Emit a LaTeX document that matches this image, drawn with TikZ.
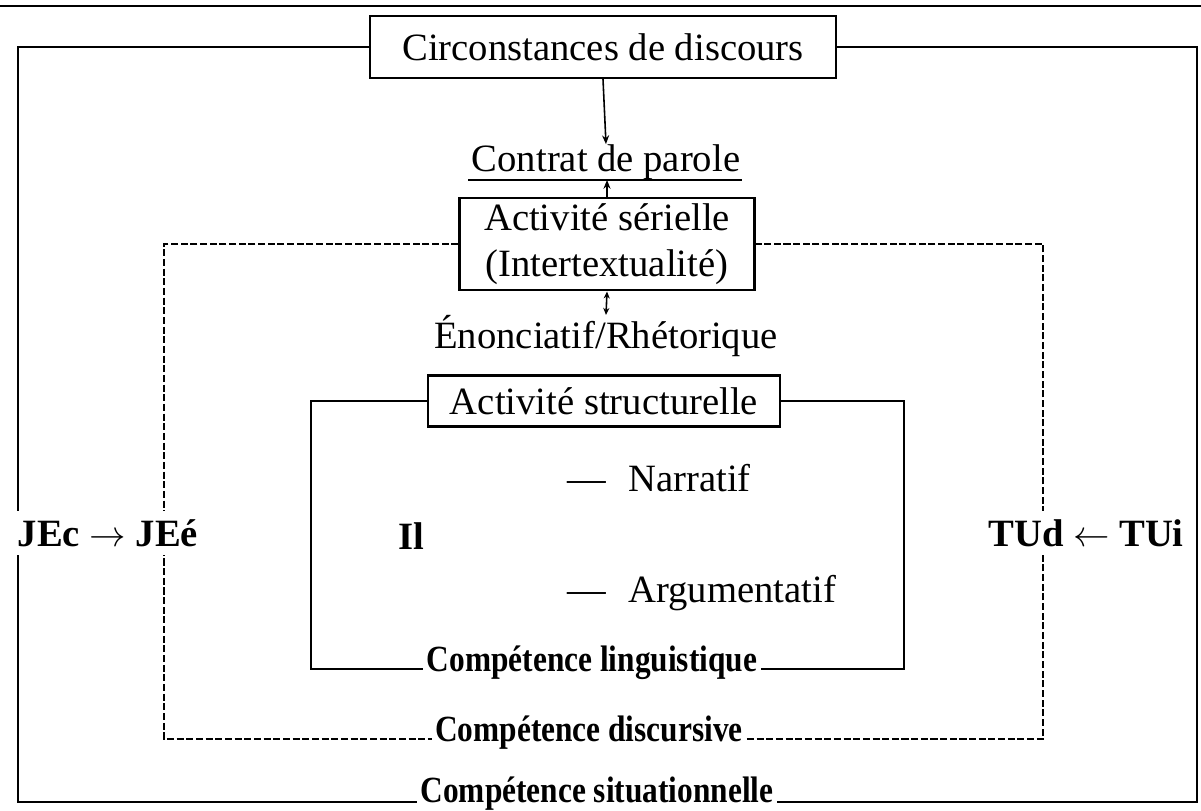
\documentclass[tikz,border=0pt]{standalone}
\usepackage{fontspec}
\setmainfont{Liberation Serif}
\newfontfamily\condbf{Liberation Serif}[FakeStretch=0.85]
\usetikzlibrary{arrows.meta}

\tikzset{
    txt/.style={font=\fontsize{22}{26}\selectfont, inner sep=0pt},
    box/.style={draw, line width=1.4pt, fill=white, font=\fontsize{22}{26}\selectfont, align=center},
    comp/.style={fill=white, inner xsep=2pt, inner ysep=1pt, font=\condbf\bfseries\fontsize{21}{25}\selectfont},
    side/.style={fill=white, inner xsep=2pt, inner ysep=5pt, font=\bfseries\fontsize{22}{26}\selectfont},
    solidframe/.style={line width=1.5pt},
    dashframe/.style={line width=1.2pt, dash pattern=on 4pt off 1.5pt},
    tip/.style={line width=0.9pt, -{Stealth[length=5pt,width=4pt]}},
}

\begin{document}
\begin{tikzpicture}[x=0.02cm, y=-0.02cm]
        \useasboundingbox (0,0) rectangle (1201,811);
        \draw[line width=1.6pt] (0,6) -- (1201,6);

        % top
        \node[box, minimum width=9.32cm, minimum height=1.24cm] (circ) at (603,47) {Circonstances de discours};
        \node[txt] (contrat) at (606,162) {Contrat de parole};
        \coordinate (ulL) at (468,180);
        \coordinate (ulR) at (742,180);
        \draw[line width=1.2pt] (ulL) -- (ulR);
        \draw[tip] (circ.south) -- (contrat.north);

        % serial
        \node[box, minimum width=5.9cm, minimum height=1.72cm] (seri) at (607,244) {Activité sérielle\\(Intertextualité)};
        \draw[tip] (seri.north) -- (seri.north |- ulL);
        \node[txt] (enon) at (606,336) {Énonciatif/Rhétorique};
        \draw[line width=0.9pt, {Stealth[length=4pt,width=3.5pt]}-{Stealth[length=4pt,width=3.5pt]}] (seri.south) -- (enon.north);

        % structural
        \node[box, minimum width=7.04cm, minimum height=1.02cm] (struct) at (604,401) {Activité structurelle};
        \node[txt, anchor=west] (narr) at (567,478) {---\hspace{0.45cm}Narratif};
        \node[txt, anchor=west] (argu) at (567,593) {---\hspace{0.45cm}Argumentatif};
        \node[txt, font=\bfseries\fontsize{22}{26}\selectfont] (il) at (411,536) {Il};

        % frames
        \draw[solidframe] (circ.west) -| (18,802) -- (1197,802) |- (circ.east);
        \draw[dashframe] (seri.west) -| (164,739) -- (1043,739) |- (seri.east);
        \draw[solidframe] (struct.west) -| (311,669) -- (904,669) |- (struct.east);

        % competences
        \node[comp, anchor=base] (ling) at (592,671) {Compétence linguistique};
        \node[comp, anchor=base] (disc) at (589,741) {Compétence discursive};
        \node[comp, anchor=base] (situ) at (597,802) {Compétence situationnelle};

        % subjects
        \node[side] (je) at (108,533) {JEc $\rightarrow$ JEé};
        \node[side] (tu) at (1086,533) {TUd $\leftarrow$ TUi};
\end{tikzpicture}
\end{document}
